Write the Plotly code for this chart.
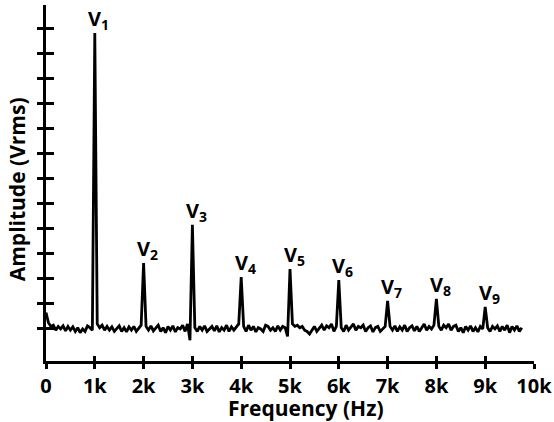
import plotly.graph_objects as go

# Frequency grid (Hz), 50 Hz steps from 0 to 9750
freq = list(range(0, 9800, 50))

# Amplitude (arbitrary units, tick spacing = 1)
amplitude = (
    [0.65, 0.25, 0.1, 0.15, -0.05, 0.1, 0.0, 0.12, -0.08, 0.1, -0.05, 0.08, -0.1, 0.05, -0.15, 0.0, -0.1, 0.12, 0.05, -0.05]
    + [11.8, 0.2, 0.05, 0.15, -0.05, 0.1, -0.05, 0.08, -0.1, 0.0, 0.12, -0.1, 0.05, -0.12, 0.08, -0.05, 0.1, -0.1, 0.05, 0.15]
    + [2.63, 0.1, -0.05, 0.12, -0.08, 0.05, 0.15, -0.1, 0.05, -0.15, 0.1, -0.05, 0.12, -0.12, 0.05, 0.0, 0.15, -0.1, 0.2, -0.45]
    + [4.15, 0.05, -0.1, 0.1, -0.05, 0.12, -0.1, 0.0, 0.1, -0.08, 0.12, -0.12, 0.05, -0.05, 0.15, -0.1, 0.08, -0.05, 0.1, 0.2]
    + [2.07, 0.1, -0.1, 0.15, -0.05, 0.1, -0.12, 0.05, 0.0, -0.1, 0.15, 0.1, -0.05, 0.05, -0.1, 0.12, -0.05, 0.1, 0.05, -0.3]
    + [2.39, 0.2, 0.1, 0.15, 0.05, 0.1, -0.05, -0.1, -0.2, -0.05, 0.1, -0.1, 0.05, 0.15, -0.05, 0.12, 0.05, 0.2, -0.1, 0.1]
    + [1.95, 0.05, -0.1, 0.15, -0.05, 0.1, 0.2, -0.05, 0.1, 0.05, 0.15, -0.1, 0.05, 0.12, -0.12, 0.05, 0.1, -0.1, 0.0, 0.1]
    + [1.12, 0.1, -0.05, 0.12, -0.1, 0.08, -0.05, 0.15, -0.1, 0.05, 0.12, -0.08, 0.1, -0.1, 0.05, 0.2, -0.05, 0.1, 0.0, 0.15]
    + [1.2, 0.1, -0.05, 0.15, 0.05, 0.2, -0.05, 0.1, 0.15, -0.1, 0.05, -0.15, 0.1, -0.05, 0.12, -0.1, 0.05, -0.12, 0.1, 0.0]
    + [0.88, 0.05, -0.1, 0.1, 0.0, 0.12, -0.1, 0.1, -0.05, 0.15, -0.15, 0.1, -0.05, 0.12, -0.1, 0.05]
)

peak_freqs = [1000, 2000, 3000, 4000, 5000, 6000, 7000, 8000, 9000]
peak_labels = ["V<sub>1</sub>", "V<sub>2</sub>", "V<sub>3</sub>", "V<sub>4</sub>", "V<sub>5</sub>",
               "V<sub>6</sub>", "V<sub>7</sub>", "V<sub>8</sub>", "V<sub>9</sub>"]

x_tickvals = [0, 1000, 2000, 3000, 4000, 5000, 6000, 7000, 8000, 9000, 10000]
x_ticktext = ["0", "1k", "2k", "3k", "4k", "5k", "6k", "7k", "8k", "9k", "10k"]
y_tickvals = list(range(0, 13))

FONT = "Open Sans"
XR = [0, 10000]
YR = [-1.28, 12.92]

fig = go.Figure()
fig.add_trace(go.Scatter(x=freq, y=amplitude, mode="lines",
                         line=dict(color="black", width=2.8), showlegend=False,
                         hoverinfo="skip"))
# invisible trace on overlay axes for the inner half of the crossing ticks
fig.add_trace(go.Scatter(x=[None], y=[None], xaxis="x2", yaxis="y2", showlegend=False,
                         hoverinfo="skip"))

for f, lab in zip(peak_freqs, peak_labels):
    fig.add_annotation(x=f, y=amplitude[freq.index(f)], text=lab, showarrow=False,
                       xanchor="center", yanchor="bottom", xshift=4, yshift=-3,
                       font=dict(family=FONT, size=20, color="black", weight="bold"))

fig.add_annotation(xref="paper", yref="paper", x=-0.059, y=0.483, text="Amplitude (Vrms)",
                   textangle=-90, showarrow=False, xanchor="center", yanchor="middle",
                   font=dict(family=FONT, size=21, color="black", weight="bold"))
fig.add_annotation(xref="paper", yref="paper", x=0.533, y=-0.133, text="Frequency (Hz)",
                   showarrow=False, xanchor="center", yanchor="middle",
                   font=dict(family=FONT, size=21, color="black", weight="bold"))

axis_common = dict(showgrid=False, zeroline=False, linecolor="black", linewidth=3,
                   tickcolor="black", tickwidth=3, automargin=False)

fig.update_layout(
    width=554, height=422,
    margin=dict(l=46, r=20, t=5, b=61),
    paper_bgcolor="white", plot_bgcolor="white",
    xaxis=dict(range=XR, tickvals=x_tickvals, ticktext=x_ticktext, ticks="outside",
               ticklen=5, showline=True,
               tickfont=dict(family=FONT, size=20, color="black", weight="bold"),
               **axis_common),
    yaxis=dict(range=YR, tickvals=y_tickvals, ticks="outside", ticklen=6,
               showticklabels=False, showline=True, **axis_common),
    xaxis2=dict(range=XR, tickvals=x_tickvals, ticks="inside", ticklen=5,
                showticklabels=False, showline=False, overlaying="x", anchor="y2",
                side="bottom", **axis_common),
    yaxis2=dict(range=YR, tickvals=y_tickvals, ticks="inside", ticklen=8,
                showticklabels=False, showline=False, overlaying="y", anchor="x2",
                side="left", **axis_common),
)

fig.write_html("out.html", config={"displayModeBar": False},
               post_script="document.body.style.margin='0px';")
